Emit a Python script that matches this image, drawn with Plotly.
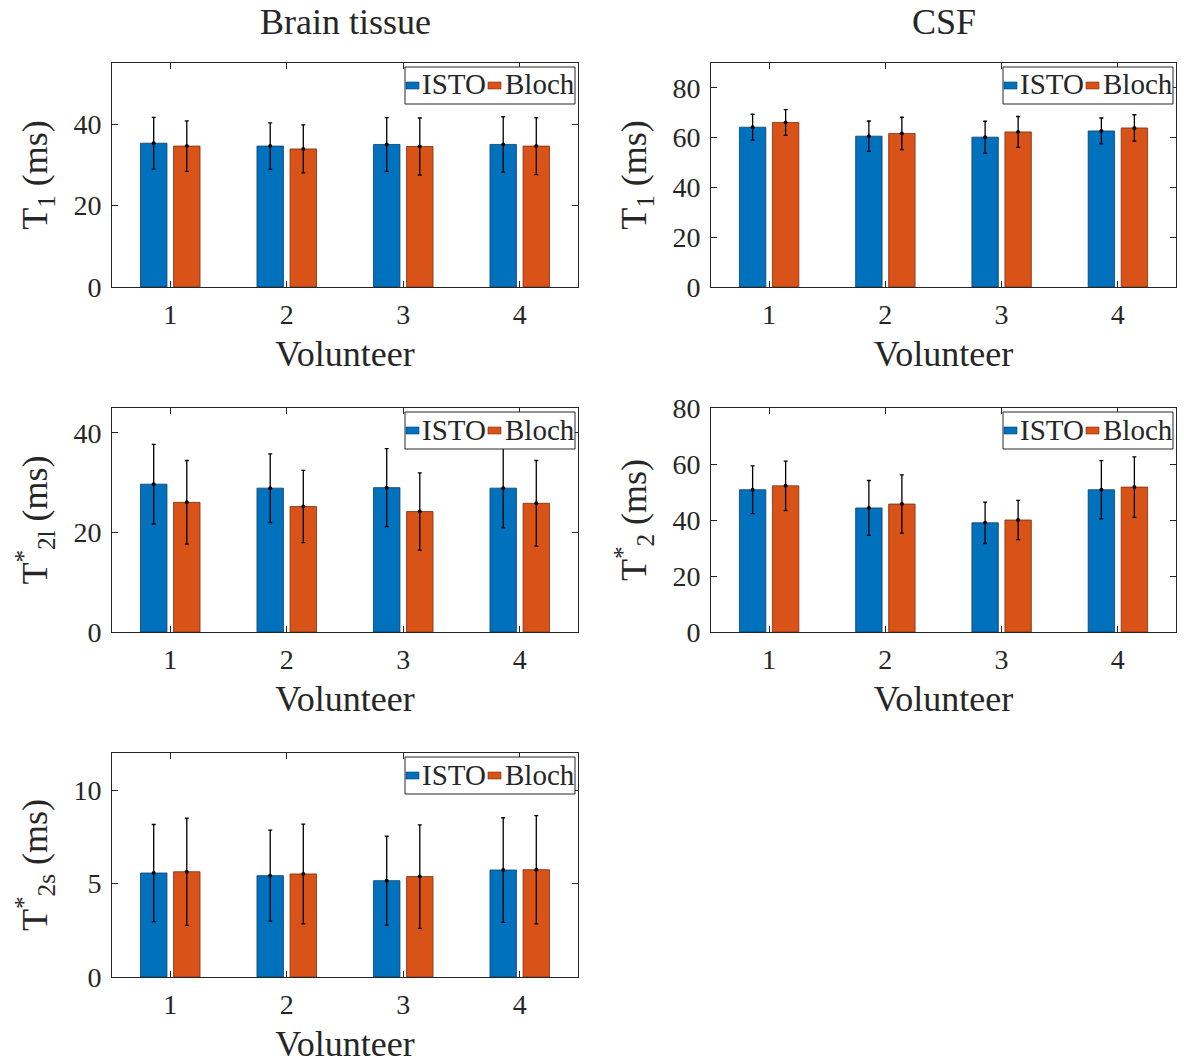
import plotly.graph_objects as go

# Volunteers on the x axis
volunteers = [1, 2, 3, 4]
series_names = ["ISTO", "Bloch"]

# Brain tissue T1 (ms): mean and standard deviation
t1_brain_isto = [35.3, 34.6, 35.0, 35.0]
t1_brain_isto_sd = [6.35, 5.7, 6.6, 6.8]
t1_brain_bloch = [34.6, 33.9, 34.5, 34.6]
t1_brain_bloch_sd = [6.2, 5.9, 7.0, 7.0]

# CSF T1 (ms)
t1_csf_isto = [64.2, 60.6, 60.2, 62.7]
t1_csf_isto_sd = [5.2, 6.1, 6.4, 5.2]
t1_csf_bloch = [66.1, 61.7, 62.3, 63.9]
t1_csf_bloch_sd = [5.2, 6.5, 6.2, 5.3]

# Brain tissue T2l* (ms)
t2l_brain_isto = [29.7, 28.9, 29.0, 28.9]
t2l_brain_isto_sd = [8.0, 6.9, 7.85, 8.0]
t2l_brain_bloch = [26.05, 25.2, 24.2, 25.85]
t2l_brain_bloch_sd = [8.4, 7.25, 7.75, 8.6]

# CSF T2* (ms)
t2_csf_isto = [50.8, 44.3, 39.0, 50.8]
t2_csf_isto_sd = [8.5, 9.8, 7.4, 10.4]
t2_csf_bloch = [52.2, 45.7, 40.0, 51.75]
t2_csf_bloch_sd = [8.8, 10.4, 7.0, 10.8]

# Brain tissue T2s* (ms)
t2s_brain_isto = [5.57, 5.43, 5.16, 5.73]
t2s_brain_isto_sd = [2.6, 2.44, 2.38, 2.8]
t2s_brain_bloch = [5.64, 5.52, 5.38, 5.75]
t2s_brain_bloch_sd = [2.87, 2.67, 2.77, 2.9]

column_titles = ["Brain tissue", "CSF"]

W, H = 1184, 1064
FONT = "Liberation Serif, DejaVu Serif, Times New Roman, serif"
TXT = "#262626"
COLORS = ["#0072BD", "#D95319"]
EDGES = ["#0a3d66", "#7a2e0c"]

BARGAP = 0.432
BARGROUPGAP = 0.2
slot = (1 - BARGAP) / 2
offsets = [-slot / 2, slot / 2]

# panel boxes in pixels: (left, top, right, bottom)
panels = [
    dict(box=(112, 63, 578, 287), yr=[0, 55], dt=20,
         ytitle="T<sub>1</sub> (ms)",
         data=[(t1_brain_isto, t1_brain_isto_sd), (t1_brain_bloch, t1_brain_bloch_sd)]),
    dict(box=(711, 63, 1176, 287), yr=[0, 90], dt=20,
         ytitle="T<sub>1</sub> (ms)",
         data=[(t1_csf_isto, t1_csf_isto_sd), (t1_csf_bloch, t1_csf_bloch_sd)]),
    dict(box=(112, 408, 578, 632), yr=[0, 45], dt=20,
         ytitle="T<sup>*</sup><sub>2l</sub> (ms)",
         data=[(t2l_brain_isto, t2l_brain_isto_sd), (t2l_brain_bloch, t2l_brain_bloch_sd)]),
    dict(box=(711, 408, 1176, 632), yr=[0, 80], dt=20,
         ytitle="T<sup>*</sup><sub>2</sub> (ms)",
         data=[(t2_csf_isto, t2_csf_isto_sd), (t2_csf_bloch, t2_csf_bloch_sd)]),
    dict(box=(112, 753, 578, 977), yr=[0, 12], dt=5,
         ytitle="T<sup>*</sup><sub>2s</sub> (ms)",
         data=[(t2s_brain_isto, t2s_brain_isto_sd), (t2s_brain_bloch, t2s_brain_bloch_sd)]),
]

fig = go.Figure()
layout = dict(
    width=W, height=H,
    margin=dict(l=0, r=0, t=0, b=0, autoexpand=False),
    paper_bgcolor="white", plot_bgcolor="white",
    barmode="group", bargap=BARGAP, bargroupgap=BARGROUPGAP,
    font=dict(family=FONT, color=TXT, size=28),
    showlegend=False,
    annotations=[], shapes=[],
)


def px_x(v):
    return v / W


def px_y(v):
    return 1 - v / H


for i, p in enumerate(panels):
    n = i + 1
    suffix = "" if n == 1 else str(n)
    xa, ya = "x" + suffix, "y" + suffix
    l, t, r, b = p["box"]
    for k, (vals, sd) in enumerate(p["data"]):
        fig.add_trace(go.Bar(
            x=volunteers, y=vals, name=series_names[k],
            marker=dict(color=COLORS[k], line=dict(color=EDGES[k], width=0.8)),
            xaxis=xa, yaxis=ya, offsetgroup=str(k),
        ))
    for k, (vals, sd) in enumerate(p["data"]):
        fig.add_trace(go.Scatter(
            x=[v + offsets[k] for v in volunteers], y=vals,
            mode="markers",
            marker=dict(color="black", size=4),
            error_y=dict(type="data", array=sd, visible=True,
                         color="black", thickness=1.3, width=2),
            xaxis=xa, yaxis=ya, hoverinfo="skip",
        ))

    axis_common = dict(
        showline=True, linecolor=TXT, linewidth=1, mirror="ticks",
        ticks="inside", ticklen=6, tickcolor=TXT, tickwidth=1,
        showgrid=False, zeroline=False, automargin=False,
        tickfont=dict(family=FONT, size=28, color=TXT),
    )
    layout["xaxis" + suffix] = dict(
        axis_common, domain=[px_x(l), px_x(r)], range=[0.5, 4.5],
        tickvals=volunteers, anchor=ya,
        ticklabelstandoff=2,
        title=dict(text="Volunteer", font=dict(family=FONT, size=36, color=TXT), standoff=12),
    )
    layout["yaxis" + suffix] = dict(
        axis_common, domain=[px_y(b), px_y(t)], range=p["yr"],
        tick0=0, dtick=p["dt"], anchor=xa,
        ticklabelstandoff=4,
        title=dict(text=p["ytitle"], font=dict(family=FONT, size=36, color=TXT), standoff=14),
    )

    # boxed legend in the upper right corner of each panel
    bx0, by0, bx1, by1 = r - 173, t + 4, r - 3, t + 41
    layout["shapes"].append(dict(
        type="rect", xref="paper", yref="paper",
        x0=px_x(bx0), x1=px_x(bx1), y0=px_y(by1), y1=px_y(by0),
        line=dict(color=TXT, width=1), fillcolor="white", layer="above",
    ))
    ymid = (by0 + by1) / 2
    for k, (sx, tx) in enumerate([(bx0 + 1, bx0 + 15), (bx0 + 83, bx0 + 98)]):
        layout["shapes"].append(dict(
            type="rect", xref="paper", yref="paper",
            x0=px_x(sx), x1=px_x(sx + 13), y0=px_y(ymid + 3.5), y1=px_y(ymid - 3.5),
            line=dict(color=EDGES[k], width=0.6), fillcolor=COLORS[k], layer="above",
        ))
        layout["annotations"].append(dict(
            text=series_names[k], x=px_x(tx), y=px_y(ymid - 1),
            xref="paper", yref="paper", xanchor="left", yanchor="middle",
            showarrow=False, font=dict(family=FONT, size=29, color=TXT),
        ))

# column headings
for c, title in enumerate(column_titles):
    l, t, r, b = panels[c]["box"]
    layout["annotations"].append(dict(
        text=title, x=px_x((l + r) / 2), y=px_y(22), xref="paper", yref="paper",
        xanchor="center", yanchor="middle", showarrow=False,
        font=dict(family=FONT, size=36, color=TXT),
    ))

fig.update_layout(**layout)
fig.write_html("out.html")
